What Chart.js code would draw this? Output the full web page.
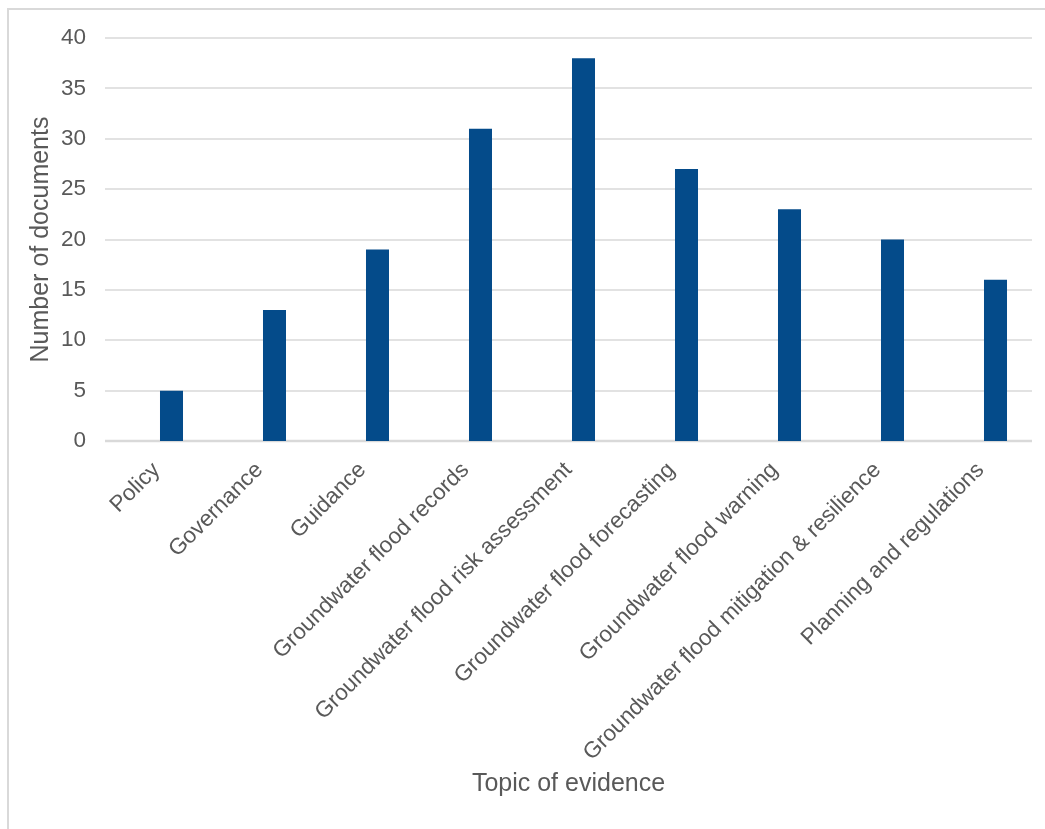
<!DOCTYPE html>
<html>
<head>
<meta charset="utf-8">
<script src="https://cdn.jsdelivr.net/npm/chart.js@4.4.1/dist/chart.umd.min.js"></script>
<style>
  html, body { margin: 0; padding: 0; background: #ffffff; overflow: hidden; }
  #frame {
    position: absolute; left: 7px; top: 8px; width: 1100px; height: 900px;
    border-left: 2px solid #d9d9d9; border-top: 2px solid #d9d9d9;
  }
  #wrap { position: absolute; left: 0; top: 0; width: 1045px; height: 829px; }
</style>
</head>
<body>
<div id="frame"></div>
<div id="wrap"><canvas id="chart"></canvas></div>
<script>
// Topics of evidence and the number of documents found for each
const topics = [
  'Policy',
  'Governance',
  'Guidance',
  'Groundwater flood records',
  'Groundwater flood risk assessment',
  'Groundwater flood forecasting',
  'Groundwater flood warning',
  'Groundwater flood mitigation & resilience',
  'Planning and regulations'
];
const documentCounts = [5, 13, 19, 31, 38, 27, 23, 20, 16];

// The first column of each cluster is an empty series, so every bar sits
// to the right of its category centre
const emptySeries = [];

const yTicks = [0, 5, 10, 15, 20, 25, 30, 35, 40];
const yTitle = 'Number of documents';
const xTitle = 'Topic of evidence';

const textGrey = '#595959';
const gridGrey = '#d9d9d9';
const barBlue = '#044b8a';
const fontFamily = '"Liberation Sans", Arial, sans-serif';

// Horizontal gridlines, drawn behind the bars across the plot area
const gridPlugin = {
  id: 'yGrid',
  beforeDatasetsDraw(chart) {
    const { ctx, chartArea, scales } = chart;
    ctx.save();
    ctx.strokeStyle = gridGrey;
    yTicks.forEach(v => {
      const y = Math.round(scales.y.getPixelForValue(v));
      ctx.lineWidth = v === 0 ? 2.5 : 1.5;
      ctx.beginPath();
      ctx.moveTo(chartArea.left, y);
      ctx.lineTo(chartArea.right, y);
      ctx.stroke();
    });
    ctx.restore();
  }
};

new Chart(document.getElementById('chart'), {
  type: 'bar',
  data: {
    labels: topics,
    datasets: [
      { label: '', data: emptySeries, backgroundColor: 'rgba(0,0,0,0)' },
      { label: yTitle, data: documentCounts, backgroundColor: barBlue, borderWidth: 0 }
    ]
  },
  options: {
    responsive: true,
    maintainAspectRatio: false,
    animation: false,
    events: [],
    categoryPercentage: 0.5825,
    barPercentage: 0.767,
    layout: { padding: { top: 38, right: 13, left: 0, bottom: 0 } },
    plugins: {
      legend: { display: false },
      tooltip: { enabled: false }
    },
    scales: {
      x: {
        grid: { display: false, drawTicks: false },
        border: { display: false },
        ticks: {
          autoSkip: false,
          minRotation: 45,
          maxRotation: 45,
          padding: 16,
          color: textGrey,
          font: { family: fontFamily, size: 22.5 }
        },
        title: {
          display: true,
          text: xTitle,
          color: textGrey,
          font: { family: fontFamily, size: 25 },
          padding: { top: 0, bottom: 30 }
        },
        afterFit(scale) { scale.height = 388; }
      },
      y: {
        min: 0,
        max: 40,
        afterBuildTicks(scale) { scale.ticks = yTicks.map(v => ({ value: v })); },
        grid: { display: false, drawTicks: false },
        border: { display: false },
        ticks: {
          padding: 19,
          color: textGrey,
          font: { family: fontFamily, size: 22.5 }
        },
        title: {
          display: true,
          text: yTitle,
          color: textGrey,
          font: { family: fontFamily, size: 25 },
          padding: { top: 26, bottom: 0 }
        },
        afterFit(scale) { scale.width = 105; }
      }
    }
  },
  plugins: [gridPlugin]
});
</script>
</body>
</html>
